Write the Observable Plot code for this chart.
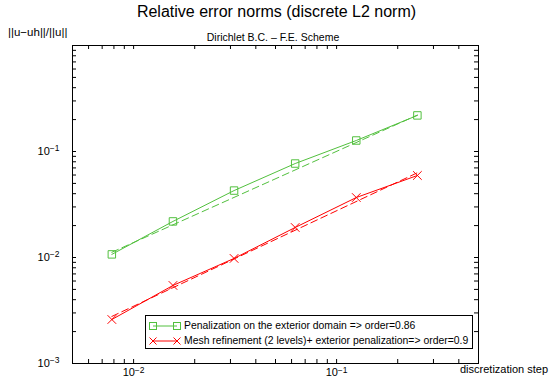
<!DOCTYPE html>
<html><head><meta charset="utf-8">
<script src="https://cdn.jsdelivr.net/npm/d3@7"></script>
<script src="https://cdn.jsdelivr.net/npm/@observablehq/plot@0.6"></script>
<style>
body{margin:0;background:#fff;font-family:"Liberation Sans",Arial,sans-serif;}
#wrap{position:relative;width:553px;height:383px;overflow:hidden;background:#fff;}
.t{position:absolute;white-space:nowrap;color:#000;line-height:1;}
#legend{position:absolute;border:1px solid #000;background:#fff;box-sizing:border-box;}
.row{display:flex;align-items:center;height:15px;font-size:10.4px;}
.row svg{margin:0 3px 0 3px;}
</style></head><body><div id="wrap"></div>
<script>
// ---- data ----
const steps = [1/128, 1/64, 1/32, 1/16, 1/8, 1/4];
const penalization = [0.0107, 0.0219, 0.0428, 0.077, 0.127, 0.219];
const meshRefinement = [0.0026, 0.00545, 0.0098, 0.0192, 0.0368, 0.0594];
const fitSteps = [1/128, 1/4];
const penalizationFit = [0.0112, 0.2206];
const meshRefinementFit = [0.00278, 0.063];
const seriesNames = [
  "Penalization on the exterior domain => order=0.86",
  "Mesh refinement (2 levels)+ exterior penalization=> order=0.9"
];
const xMajorTicks = [0.01, 0.1];
const xMinorTicks = [0.005,0.006,0.007,0.008,0.009,0.02,0.03,0.04,0.05,0.06,0.07,0.08,0.09,0.2,0.3,0.4,0.5];
const yMajorTicks = [0.001, 0.01, 0.1];
const yMinorTicks = [0.002,0.003,0.004,0.005,0.006,0.007,0.008,0.009,0.02,0.03,0.04,0.05,0.06,0.07,0.08,0.09,0.2,0.3,0.4,0.5,0.6,0.7,0.8,0.9,1];

// ---- styles ----
const green = "#52c03e", red = "#ff0000";
const W = 553, H = 383, mL = 72, mR = 75, mT = 45, mB = 20;
const pw = W - mL - mR, ph = H - mT - mB, tk = 4;

const rows = [];
steps.forEach((s, i) => {
  rows.push({x: s, y: penalization[i], k: 0});
  rows.push({x: s, y: meshRefinement[i], k: 1});
});
const fits = [];
fitSteps.forEach((s, i) => {
  fits.push({x: s, y: penalizationFit[i], k: 0});
  fits.push({x: s, y: meshRefinementFit[i], k: 1});
});
const colors = [green, red];
const fmt = d => "10" + String(Math.round(Math.log10(d)));

const allX = xMajorTicks.concat(xMinorTicks), allY = yMajorTicks.concat(yMinorTicks);
const chart = Plot.plot({
  width: W, height: H,
  marginLeft: mL, marginRight: mR, marginTop: mT, marginBottom: mB,
  style: {fontFamily: "'Liberation Sans', Arial, sans-serif", fontSize: "11px", background: "white", color: "black"},
  x: {type: "log", domain: [0.005, 0.5], axis: null},
  y: {type: "log", domain: [0.001, 1], axis: null},
  marks: [
    Plot.tickX(allX, {x: d => d, insetTop: ph - tk, stroke: "black"}),
    Plot.tickX(allX, {x: d => d, insetBottom: ph - tk, stroke: "black"}),
    Plot.tickY(allY, {y: d => d, insetRight: pw - tk, stroke: "black"}),
    Plot.tickY(allY, {y: d => d, insetLeft: pw - tk, stroke: "black"}),
    Plot.frame({stroke: "black", strokeWidth: 1}),
    Plot.axisX({ticks: xMajorTicks, tickSize: 0, tickPadding: 5, tickFormat: fmt, label: null}),
    Plot.axisY({ticks: yMajorTicks, tickSize: 0, tickPadding: 13, tickFormat: fmt, label: null}),
    Plot.line(fits, {x: "x", y: "y", z: "k", stroke: d => colors[d.k], strokeDasharray: "7,4", strokeWidth: 1}),
    Plot.line(rows, {x: "x", y: "y", z: "k", stroke: d => colors[d.k], strokeWidth: 1}),
    Plot.dot(rows.filter(d => d.k === 0), {x: "x", y: "y", symbol: "square", r: 4.2, stroke: green, fill: "none", strokeWidth: 1}),
    Plot.dot(rows.filter(d => d.k === 1), {x: "x", y: "y", symbol: "times", r: 4, stroke: red, strokeWidth: 1})
  ]
});
const wrap = document.getElementById("wrap");
wrap.appendChild(chart);

// superscript exponents in tick labels
d3.select(chart).selectAll("g[aria-label='x-axis tick label'] text, g[aria-label='y-axis tick label'] text").each(function() {
  const t = this.textContent;
  const exp = t.slice(2).replace("-", "\u2212");
  const sel = d3.select(this);
  sel.text("");
  sel.append("tspan").text("10");
  sel.append("tspan").attr("dy", "-0.45em").attr("font-size", "8.5px").text(exp);
});

function addText(txt, css) {
  const d = document.createElement("div");
  d.className = "t"; d.textContent = txt;
  Object.assign(d.style, css);
  wrap.appendChild(d);
}
addText("Relative error norms (discrete L2 norm)", {left: "0px", width: "553px", textAlign: "center", top: "4px", fontSize: "16px"});
addText("Dirichlet B.C. \u2013 F.E. Scheme", {left: "0px", width: "546px", textAlign: "center", top: "32px", fontSize: "10.5px"});
addText("||u\u2212uh||/||u||", {left: "8px", top: "27px", fontSize: "11.5px"});
addText("discretization step", {left: "460px", top: "364px", fontSize: "11px"});

// legend
const lg = document.createElement("div");
lg.id = "legend";
Object.assign(lg.style, {left: "145px", top: "315px", width: "328px", height: "34px", paddingTop: "2px"});
seriesNames.forEach((name, i) => {
  const r = document.createElement("div");
  r.className = "row";
  const s = d3.create("svg").attr("width", 32).attr("height", 12);
  s.append("line").attr("x1", 4).attr("x2", 28).attr("y1", 6).attr("y2", 6).attr("stroke", colors[i]);
  [4, 28].forEach(cx => {
    if (i === 0) s.append("rect").attr("x", cx - 3.5).attr("y", 2.5).attr("width", 7).attr("height", 7).attr("fill", "none").attr("stroke", colors[i]);
    else s.append("path").attr("d", `M${cx-3.5},2.5L${cx+3.5},9.5M${cx-3.5},9.5L${cx+3.5},2.5`).attr("stroke", colors[i]);
  });
  r.appendChild(s.node());
  const sp = document.createElement("span");
  sp.textContent = name;
  r.appendChild(sp);
  lg.appendChild(r);
});
wrap.appendChild(lg);
</script></body></html>
